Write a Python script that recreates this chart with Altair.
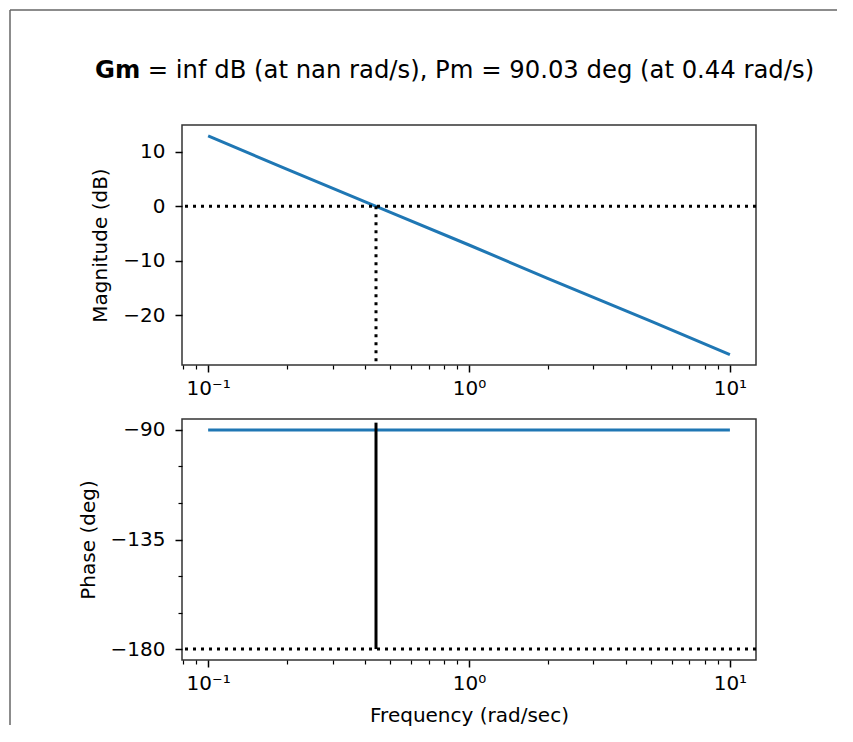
import altair as alt
import pandas as pd

# ---- data ----
freq = [0.1, 0.2, 0.5, 1.0, 2.0, 5.0, 10.0]
mag_db = [12.9, 6.8, -1.1, -7.1, -13.2, -21.1, -27.2]
phase_deg = [-90, -90, -90, -90, -90, -90, -90]
w_cross = 0.44
pm_top = -87
x_major = [0.1, 1, 10]
x_minor = [0.08, 0.09, 0.2, 0.3, 0.4, 0.5, 0.6, 0.7, 0.8, 0.9,
           2, 3, 4, 5, 6, 7, 8, 9]
mag_ticks = [10, 0, -10, -20]
phase_ticks = [-90, -135, -180]
phase_minor = [-105, -120, -150, -165]
mag_domain = [-29.1, 14.9]
phase_domain = [-184.5, -85.5]
x_domain = [0.0794, 12.59]
title_bold = "Gm"
title_rest = "= inf dB (at nan rad/s), Pm = 90.03 deg (at 0.44 rad/s)"

df = pd.DataFrame({"freq": freq, "mag": mag_db, "phase": phase_deg})
one = pd.DataFrame({"a": [0]})

W, H1, H2 = 574, 240, 241
FONT = "DejaVu Sans"
BLUE = "#1f77b4"

xscale = alt.Scale(type="log", domain=x_domain, nice=False)
x_is_major = "(datum.value > 0.099 && datum.value < 0.101) || datum.value == 1 || datum.value == 10"
x_label_expr = ("(datum.value > 0.099 && datum.value < 0.101) ? '10⁻¹' : "
                "datum.value == 1 ? '10⁰' : datum.value == 10 ? '10¹' : ''")


def x_axis(title=None):
    return alt.Axis(values=x_major + x_minor, labelExpr=x_label_expr, orient="bottom",
                    tickSize={"condition": {"test": x_is_major, "value": 7}, "value": 4},
                    tickWidth={"condition": {"test": x_is_major, "value": 1.5}, "value": 1.2},
                    labelPadding=6, title=title, titlePadding=12)


ph_is_major = "datum.value == -90 || datum.value == -135 || datum.value == -180"

# ---------------- magnitude panel ----------------
mag_line = alt.Chart(df).mark_line(color=BLUE, strokeWidth=3).encode(
    x=alt.X("freq:Q", scale=xscale, axis=x_axis()),
    y=alt.Y("mag:Q", scale=alt.Scale(domain=mag_domain, nice=False, zero=False),
            axis=alt.Axis(values=mag_ticks, title="Magnitude (dB)", tickSize=7,
                          labelPadding=10, titlePadding=12)),
)
zero_db = alt.Chart(one).mark_rule(color="black", strokeDash=[3, 5], strokeWidth=3).encode(
    y=alt.datum(0)
)
cross_v = alt.Chart(one).mark_rule(color="black", strokeDash=[3, 5], strokeWidth=3).encode(
    x=alt.datum(w_cross), y=alt.datum(0), y2=alt.datum(mag_domain[0])
)
frame_h = alt.Chart(one).mark_rule(color="#666", strokeWidth=1.5).encode(
    x=alt.value(-172), x2=alt.value(655), y=alt.value(-115)
)
frame_v = alt.Chart(one).mark_rule(color="#666", strokeWidth=1.5).encode(
    x=alt.value(-172), y=alt.value(-115), y2=alt.value(600)
)
t_bold = alt.Chart(one).mark_text(font=FONT, fontSize=24.3, fontWeight="bold",
                                  align="left", baseline="alphabetic", color="black").encode(
    x=alt.value(-87), y=alt.value(-47), text=alt.value(title_bold)
)
t_rest = alt.Chart(one).mark_text(font=FONT, fontSize=24.3, align="left",
                                  baseline="alphabetic", color="black").encode(
    x=alt.value(-34.3), y=alt.value(-47), text=alt.value(title_rest)
)

top = alt.layer(mag_line, zero_db, cross_v, frame_h, frame_v, t_bold, t_rest).properties(
    width=W, height=H1
)

# ---------------- phase panel ----------------
ph_line = alt.Chart(df).mark_line(color=BLUE, strokeWidth=3).encode(
    x=alt.X("freq:Q", scale=xscale, axis=x_axis("Frequency (rad/sec)")),
    y=alt.Y("phase:Q", scale=alt.Scale(domain=phase_domain, nice=False, zero=False),
            axis=alt.Axis(values=phase_ticks + phase_minor,
                          labelExpr="(" + ph_is_major + ") ? replace(datum.label, '-', '−') : ''",
                          title="Phase (deg)",
                          tickSize={"condition": {"test": ph_is_major, "value": 7}, "value": 4},
                          tickWidth={"condition": {"test": ph_is_major, "value": 1.5}, "value": 1.2},
                          labelPadding=10, titlePadding=12)),
)
m180 = alt.Chart(one).mark_rule(color="black", strokeDash=[3, 5], strokeWidth=3).encode(
    y=alt.datum(-180)
)
pm_v = alt.Chart(one).mark_rule(color="black", strokeWidth=3).encode(
    x=alt.datum(w_cross), y=alt.datum(-180), y2=alt.datum(pm_top)
)

bottom = alt.layer(ph_line, m180, pm_v).properties(width=W, height=H2)

chart = alt.vconcat(top, bottom, spacing=54, bounds="flush").properties(
    padding=0
).configure_view(
    stroke="#333", strokeWidth=1.5
).configure_axis(
    labelFont=FONT, labelFontSize=20, labelColor="black",
    titleFont=FONT, titleFontSize=20, titleFontWeight="normal", titleColor="black",
    tickColor="black", tickWidth=1.5, grid=False, domain=False,
)

chart.save("out.html", embed_options={"renderer": "svg", "actions": False})
